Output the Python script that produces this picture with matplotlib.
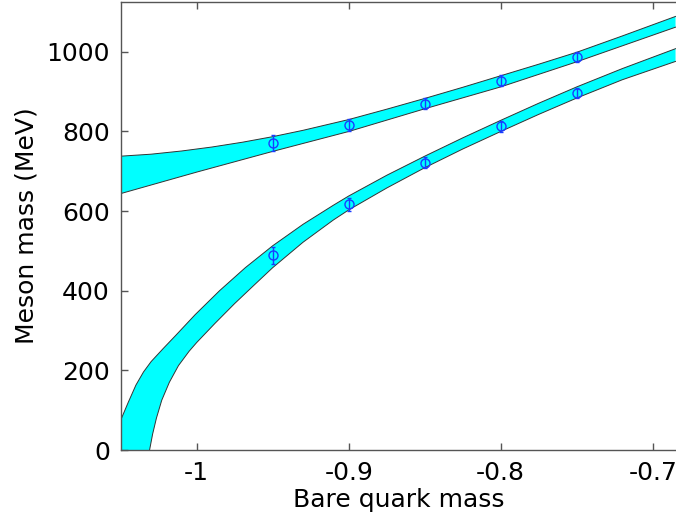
import matplotlib
matplotlib.use('Agg')
import matplotlib.pyplot as plt
import numpy as np

# data points (bare quark mass, meson mass, error)
x_pts = [-0.95, -0.9, -0.85, -0.8, -0.75]
upper_y = [771, 816, 870, 928, 987]
upper_err = [20, 15, 14, 14, 12]
lower_y = [489, 617, 722, 813, 896]
lower_err = [22, 17, 14, 14, 12]

# upper band edges
ub_top_x = [-1.05, -1.03, -1.01, -0.99, -0.97, -0.95, -0.93, -0.9, -0.875, -0.85,
            -0.825, -0.8, -0.775, -0.75, -0.72, -0.685]
ub_top_y = [738, 743, 751, 761, 773, 787, 803, 830, 856, 883, 911, 940, 969, 999,
            1040, 1089]
ub_bot_x = [-1.05, -1.0, -0.95, -0.9, -0.85, -0.8, -0.75, -0.685]
ub_bot_y = [644, 698, 750, 800, 857, 912, 975, 1062]

# lower band edges
lb_top_x = [-1.05, -1.045, -1.04, -1.035, -1.03, -1.022, -1.014, -1.001, -0.985,
            -0.968, -0.95, -0.93, -0.91, -0.9, -0.875, -0.85, -0.825, -0.8, -0.775,
            -0.75, -0.72, -0.685]
lb_top_y = [75, 120, 163, 196, 222, 255, 287, 340, 400, 458, 513, 567, 615, 638, 690,
            738, 784, 828, 871, 912, 958, 1008]
lb_bot_x = [-1.031, -1.029, -1.0265, -1.023, -1.018, -1.012, -1.005, -1.0, -0.988,
            -0.975, -0.962, -0.95, -0.93, -0.91, -0.9, -0.875, -0.85, -0.825, -0.8,
            -0.775, -0.75, -0.72, -0.685]
lb_bot_y = [0, 40, 80, 125, 170, 212, 248, 270, 318, 368, 415, 458, 522, 578, 603,
            658, 709, 756, 800, 843, 884, 930, 976]

fig = plt.figure(figsize=(6.76, 5.22), dpi=100)
ax = fig.add_axes([121 / 676, 72 / 522, 555 / 676, 448.3 / 522])

edge_col = '#333333'

# upper band
px = ub_top_x + ub_bot_x[::-1]
py = ub_top_y + ub_bot_y[::-1]
ax.fill(px, py, color='#00ffff', lw=0, zorder=1)
ax.plot(ub_top_x, ub_top_y, color=edge_col, lw=0.7, zorder=2)
ax.plot(ub_bot_x, ub_bot_y, color=edge_col, lw=0.7, zorder=2)

# lower band (corner at the axis origin closes the clipped region)
px = lb_top_x + lb_bot_x[::-1] + [-1.05]
py = lb_top_y + lb_bot_y[::-1] + [0]
ax.fill(px, py, color='#00ffff', lw=0, zorder=1)
ax.plot(lb_top_x, lb_top_y, color=edge_col, lw=0.7, zorder=2)
ax.plot(lb_bot_x, lb_bot_y, color=edge_col, lw=0.7, zorder=2)

for ys, es in [(upper_y, upper_err), (lower_y, lower_err)]:
    ax.errorbar(x_pts, ys, yerr=es, fmt='o', color='#1a3cff', mfc='none',
                ms=6.5, mew=1, elinewidth=1, capsize=1.5, zorder=3)

ax.set_xlim(-1.0498, -0.6847)
ax.set_ylim(0, 1126)
ax.set_xticks([-1, -0.9, -0.8, -0.7])
ax.set_xticklabels(['-1', '-0.9', '-0.8', '-0.7'])
ax.set_yticks([0, 200, 400, 600, 800, 1000])

ax.spines['right'].set_visible(False)
for s in ['left', 'bottom', 'top']:
    ax.spines[s].set_color('#555555')
    ax.spines[s].set_linewidth(1.0)
ax.tick_params(direction='in', length=5, width=1, color='#555555',
               labelsize=18, top=True, right=False, pad=8)

ax.set_xlabel('Bare quark mass', fontsize=18, labelpad=2)
ax.set_ylabel('Meson mass (MeV)', fontsize=18, labelpad=6)

fig.savefig('out.png', dpi=100)
